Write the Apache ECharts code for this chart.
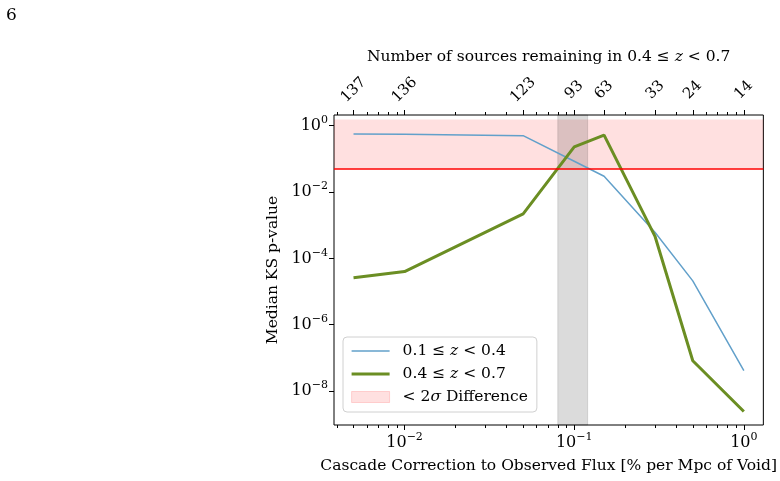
<!DOCTYPE html>
<html>
<head>
<meta charset="utf-8">
<script src="https://cdn.jsdelivr.net/npm/echarts@6/dist/echarts.min.js"></script>
<style>
html,body{margin:0;padding:0;background:#fff;}
#chart{width:780px;height:481px;}
</style>
</head>
<body>
<div id="chart"></div>
<script>
// ---- data ----
const cascadeCorrection = [0.005, 0.01, 0.05, 0.1, 0.15, 0.3, 0.5, 1.0];
const pLowZ  = [0.56, 0.55, 0.50, 0.085, 0.030, 6.0e-4, 2.1e-5, 4.1e-8];
const pHighZ = [2.6e-5, 4.0e-5, 2.2e-3, 0.23, 0.52, 4.5e-4, 8.2e-8, 2.4e-9];
const sourcesRemaining = ['137', '136', '123', '93', '63', '33', '24', '14'];
const xMajorTicks = [0.01, 0.1, 1];
const yMajorTicks = [1e-8, 1e-6, 1e-4, 1e-2, 1];
const sigmaBand = [0.05, 1.54];
const grayBand = [0.08, 0.12];
const xRange = [0.003836, 1.3033];
const yRange = [9.44e-10, 2.104];

const L = Math.log10;
const FONT = 'DejaVu Serif';
const FS = 15.5;
const xMinor = [];
[-3, -2, -1, 0].forEach(function (d) {
  for (let k = 2; k <= 9; k++) {
    const v = k * Math.pow(10, d);
    if (v > xRange[0] && v < xRange[1]) xMinor.push(L(v));
  }
});
function pow10(v) {
  const e = Math.round(v);
  return '{b|10}{s|' + (e < 0 ? '\u2212' + (-e) : String(e)) + '}';
}
const powRich = {
  b: {fontFamily: FONT, fontSize: 16, color: '#000', lineHeight: 22},
  s: {fontFamily: FONT, fontSize: 11, color: '#000', verticalAlign: 'top', lineHeight: 12}
};
const italicRich = {
  i: {fontFamily: FONT, fontSize: FS, fontStyle: 'italic', color: '#000'}
};

const xMin = L(xRange[0]), xMax = L(xRange[1]);
const yMin = L(yRange[0]), yMax = L(yRange[1]);
const topVals = cascadeCorrection.map(L);

const legendNames = {
  low: '0.1 \u2264 {i|z} < 0.4',
  high: '0.4 \u2264 {i|z} < 0.7',
  sigma: '< 2{i|\u03c3} Difference'
};
const noSymbol = {color: 'rgba(0,0,0,0)', borderColor: 'rgba(0,0,0,0)', borderWidth: 0};

const chart = echarts.init(document.getElementById('chart'), null, {renderer: 'canvas'});
chart.setOption({
  animation: false,
  backgroundColor: '#fff',
  textStyle: {fontFamily: FONT},
  graphic: [{type: 'text', left: 6, top: 7, style: {text: '6', font: '17px "DejaVu Serif"', fill: '#000'}}],
  grid: {left: 334, right: 15, top: 115, bottom: 56, show: true, borderColor: '#000', borderWidth: 1, backgroundColor: 'transparent'},
  legend: {
    orient: 'vertical', left: 343, top: 337,
    itemWidth: 38, itemHeight: 11, itemGap: 7,
    padding: [6, 9, 7, 7],
    backgroundColor: 'rgba(255,255,255,0.85)', borderColor: '#d0d0d0', borderWidth: 1, borderRadius: 4,
    textStyle: {fontFamily: FONT, fontSize: FS, color: '#000', padding: [0, 0, 0, 8], rich: italicRich},
    formatter: function (n) { return legendNames[n]; },
    data: [
      {name: 'low', itemStyle: noSymbol, lineStyle: {color: '#62a0ca', width: 1.5}},
      {name: 'high', itemStyle: noSymbol, lineStyle: {color: '#6b8e23', width: 3.2}},
      {name: 'sigma', icon: 'rect', itemStyle: {color: 'rgba(255,0,0,0.12)', borderColor: 'rgba(255,0,0,0.15)', borderWidth: 1}}
    ]
  },
  xAxis: [
    {
      type: 'value', position: 'bottom', min: xMin, max: xMax,
      axisLine: {show: false, onZero: false}, splitLine: {show: false},
      axisTick: {show: true, length: 5, lineStyle: {color: '#000', width: 1}, customValues: xMajorTicks.map(L)},
      axisLabel: {customValues: xMajorTicks.map(L), formatter: pow10, rich: powRich, margin: 7},
      name: 'Cascade Correction to Observed Flux [% per Mpc of Void]', nameLocation: 'middle', nameGap: 33,
      nameTextStyle: {fontFamily: FONT, fontSize: FS, color: '#000'}
    },
    {
      type: 'value', position: 'bottom', min: xMin, max: xMax,
      axisLine: {show: false, onZero: false}, splitLine: {show: false},
      axisTick: {show: true, length: 3, lineStyle: {color: '#000', width: 1}, customValues: xMinor},
      axisLabel: {show: false}
    },
    {
      type: 'value', position: 'top', min: xMin, max: xMax,
      axisLine: {show: false, onZero: false}, splitLine: {show: false},
      axisTick: {show: true, length: 5, lineStyle: {color: '#000', width: 1}, customValues: topVals},
      axisLabel: {
        customValues: topVals, rotate: -45, align: 'center', verticalAlign: 'middle', margin: 25,
        fontFamily: FONT, fontSize: 15, color: '#000',
        formatter: function (v) {
          let best = 0;
          topVals.forEach(function (t, i) { if (Math.abs(t - v) < Math.abs(topVals[best] - v)) best = i; });
          return sourcesRemaining[best];
        }
      },
      name: 'Number of sources remaining in 0.4 \u2264 {i|z} < 0.7', nameLocation: 'middle', nameGap: 50,
      nameTextStyle: {fontFamily: FONT, fontSize: FS, color: '#000', rich: italicRich}
    },
    {
      type: 'value', position: 'top', min: xMin, max: xMax,
      axisLine: {show: false, onZero: false}, splitLine: {show: false},
      axisTick: {show: true, length: 3, lineStyle: {color: '#000', width: 1}, customValues: xMinor},
      axisLabel: {show: false}
    }
  ],
  yAxis: [{
    type: 'value', position: 'left', min: yMin, max: yMax,
    axisLine: {show: false, onZero: false}, splitLine: {show: false},
    axisTick: {show: true, length: 5, lineStyle: {color: '#000', width: 1}, customValues: yMajorTicks.map(L)},
    axisLabel: {customValues: yMajorTicks.map(L), formatter: pow10, rich: powRich, margin: 6},
    name: 'Median KS p-value', nameLocation: 'middle', nameGap: 47,
    nameTextStyle: {fontFamily: FONT, fontSize: FS, color: '#000'}
  }],
  series: [
    {
      name: 'sigma', type: 'custom', xAxisIndex: 0, yAxisIndex: 0, z: 1,
      itemStyle: {color: 'rgba(255,0,0,0.12)'},
      renderItem: function () { return null; },
      data: [],
      markArea: {
        silent: true,
        data: [
          [{yAxis: L(sigmaBand[0]), itemStyle: {color: 'rgba(255,0,0,0.12)'}}, {yAxis: L(sigmaBand[1])}],
          [{xAxis: L(grayBand[0]), itemStyle: {color: 'rgba(0,0,0,0.14)', borderColor: 'rgba(0,0,0,0.12)', borderWidth: 1}}, {xAxis: L(grayBand[1])}]
        ]
      },
      markLine: {
        silent: true, symbol: 'none', label: {show: false},
        lineStyle: {color: '#ff0000', width: 1.6, type: 'solid'},
        data: [{yAxis: L(sigmaBand[0])}]
      }
    },
    {
      name: 'low', type: 'line', xAxisIndex: 0, yAxisIndex: 0, z: 3,
      symbol: 'none', showSymbol: false,
      lineStyle: {color: '#62a0ca', width: 1.5}, itemStyle: {color: '#62a0ca'},
      data: cascadeCorrection.map(function (x, i) { return [L(x), L(pLowZ[i])]; })
    },
    {
      name: 'high', type: 'line', xAxisIndex: 0, yAxisIndex: 0, z: 4,
      symbol: 'none', showSymbol: false,
      lineStyle: {color: '#6b8e23', width: 3}, itemStyle: {color: '#6b8e23'},
      data: cascadeCorrection.map(function (x, i) { return [L(x), L(pHighZ[i])]; })
    }
  ]
});
</script>
</body>
</html>
